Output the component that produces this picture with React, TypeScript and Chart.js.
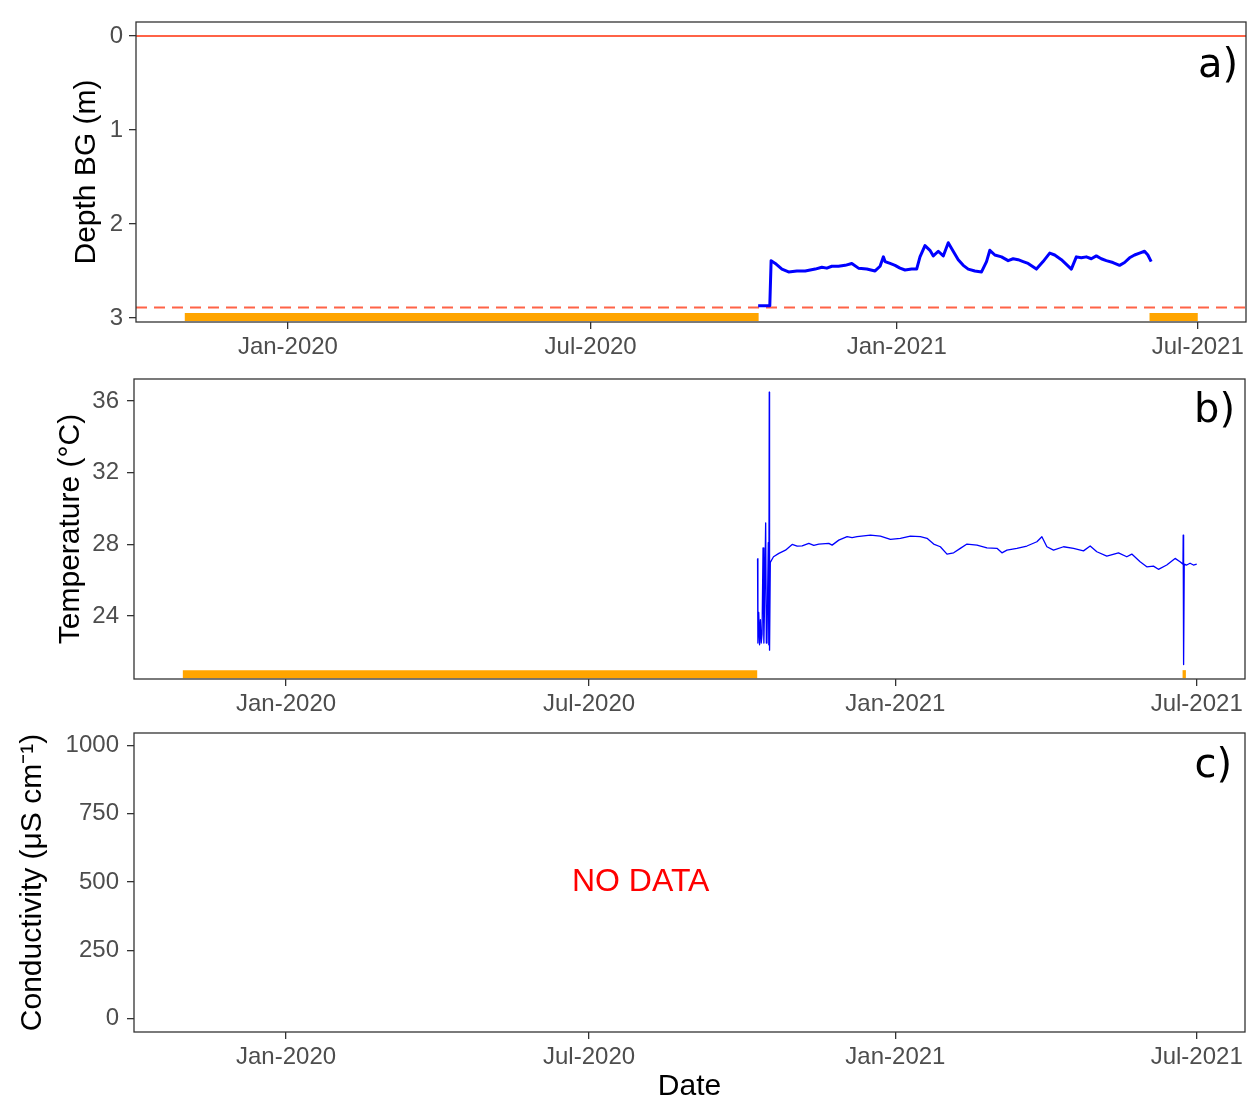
import React, { useEffect, useRef } from 'react';
import { Chart, registerables } from 'chart.js';

Chart.register(...registerables);

// ---- shared axis data ----
const X_START = '2019-10-01 16:00';
const X_END = '2021-07-30 00:00';
const TICK_DATES = ['2020-01-01', '2020-07-01', '2021-01-01', '2021-07-01'];
const TICK_LABELS = ['Jan-2020', 'Jul-2020', 'Jan-2021', 'Jul-2021'];

// ---- a) depth below ground ----
const DEPTH_TICKS = [0, 1, 2, 3];
const GROUND_LEVEL = 0;
const LOGGER_DEPTH = 2.89;
const DEPTH_GAP_LEVEL = 2.99;
const DEPTH_GAP_STARTS = ['2019-10-31', '2021-06-02'];
const DEPTH_GAP_ENDS = ['2020-10-10', '2021-07-01'];
const DEPTH_DATES = [
  '2020-10-09 17:00', '2020-10-16 17:00', '2020-10-17 12:00', '2020-10-20', '2020-10-24', '2020-10-28',
  '2020-11-02', '2020-11-07', '2020-11-10', '2020-11-13', '2020-11-17', '2020-11-20', '2020-11-23',
  '2020-11-27', '2020-12-01', '2020-12-05', '2020-12-09', '2020-12-14', '2020-12-19', '2020-12-22',
  '2020-12-24', '2020-12-25', '2020-12-28', '2020-12-31', '2021-01-03', '2021-01-06', '2021-01-10',
  '2021-01-13', '2021-01-15', '2021-01-18', '2021-01-21', '2021-01-23', '2021-01-26', '2021-01-29',
  '2021-02-01', '2021-02-03', '2021-02-07', '2021-02-10', '2021-02-13', '2021-02-17', '2021-02-21',
  '2021-02-24', '2021-02-26', '2021-03-01', '2021-03-05', '2021-03-09', '2021-03-12', '2021-03-15',
  '2021-03-18', '2021-03-21', '2021-03-26', '2021-03-30', '2021-04-03', '2021-04-06', '2021-04-10',
  '2021-04-13', '2021-04-16', '2021-04-19', '2021-04-22', '2021-04-25', '2021-04-28', '2021-05-01',
  '2021-05-04', '2021-05-07', '2021-05-11', '2021-05-15', '2021-05-18', '2021-05-21', '2021-05-24',
  '2021-05-27', '2021-05-30', '2021-06-01', '2021-06-03',
];
const DEPTH_BG = [
  2.87, 2.87, 2.39, 2.42, 2.48, 2.51,
  2.5, 2.5, 2.49, 2.48, 2.46, 2.47, 2.45,
  2.45, 2.44, 2.42, 2.47, 2.48, 2.5, 2.45,
  2.35, 2.4, 2.42, 2.44, 2.47, 2.49, 2.48,
  2.48, 2.35, 2.23, 2.28, 2.34, 2.29, 2.34,
  2.2, 2.26, 2.38, 2.44, 2.48, 2.5, 2.51,
  2.4, 2.28, 2.33, 2.35, 2.39, 2.37, 2.38,
  2.4, 2.42, 2.48, 2.4, 2.31, 2.33, 2.38,
  2.43, 2.48, 2.35, 2.36, 2.35, 2.37, 2.34,
  2.37, 2.39, 2.41, 2.44, 2.41, 2.36, 2.33,
  2.31, 2.29, 2.33, 2.4,
];

// ---- b) temperature ----
const TEMP_TICKS = [24, 28, 32, 36];
const TEMP_GAP_LEVEL = 20.76;
const TEMP_GAP_STARTS = ['2019-10-31', '2021-06-22 12:00'];
const TEMP_GAP_ENDS = ['2020-10-10', '2021-06-24 12:00'];
const TEMP_DATES = [
  '2020-10-10 05:00', '2020-10-10 10:00', '2020-10-10 22:00', '2020-10-11 10:00', '2020-10-11 22:00',
  '2020-10-12 10:00', '2020-10-12 22:00', '2020-10-13 12:00', '2020-10-14 00:00', '2020-10-14 07:00',
  '2020-10-15 02:00', '2020-10-15 12:00', '2020-10-15 21:00', '2020-10-16 16:00', '2020-10-16 23:00',
  '2020-10-17 06:00', '2020-10-17 10:00', '2020-10-17 21:00',
  '2020-10-19 19:00', '2020-10-23', '2020-10-27', '2020-10-31', '2020-11-03', '2020-11-06', '2020-11-10',
  '2020-11-13', '2020-11-16', '2020-11-22', '2020-11-24', '2020-11-28', '2020-12-03', '2020-12-06',
  '2020-12-09', '2020-12-13', '2020-12-17', '2020-12-23', '2020-12-29', '2021-01-04', '2021-01-10',
  '2021-01-16', '2021-01-20', '2021-01-24', '2021-01-28', '2021-02-01', '2021-02-05', '2021-02-09',
  '2021-02-13', '2021-02-19', '2021-02-25', '2021-03-03', '2021-03-06', '2021-03-09', '2021-03-15',
  '2021-03-21', '2021-03-27', '2021-03-30', '2021-04-02', '2021-04-06', '2021-04-12', '2021-04-18',
  '2021-04-24', '2021-04-28', '2021-05-02', '2021-05-08', '2021-05-15', '2021-05-20', '2021-05-23',
  '2021-05-28', '2021-06-01', '2021-06-05', '2021-06-08', '2021-06-13', '2021-06-18', '2021-06-21',
  '2021-06-22 18:00', '2021-06-22 21:00', '2021-06-23 00:00', '2021-06-23 06:00', '2021-06-23 12:00',
  '2021-06-25', '2021-06-27', '2021-06-29', '2021-07-01',
];
const TEMP_C = [
  27.2, 22.5, 24.2, 22.4, 23.8,
  22.5, 23.0, 27.8, 22.5, 24.0,
  29.2, 22.5, 22.6, 28.1, 22.4,
  36.5, 22.1, 27.0,
  27.31, 27.5, 27.68, 28.0, 27.9, 27.92, 28.06,
  27.95, 28.02, 28.06, 27.96, 28.24, 28.43, 28.38,
  28.43, 28.48, 28.52, 28.46, 28.28, 28.34, 28.46,
  28.43, 28.34, 28.02, 27.87, 27.46, 27.53, 27.78,
  28.02, 27.96, 27.81, 27.78, 27.53, 27.68, 27.78,
  27.91, 28.15, 28.43, 27.87, 27.68, 27.87, 27.78,
  27.64, 27.91, 27.59, 27.35, 27.53, 27.31, 27.46,
  27.03, 26.75, 26.79, 26.61, 26.85, 27.22, 27.03,
  26.9, 28.52, 21.3, 21.4, 26.9,
  26.85, 26.95, 26.85, 26.9,
];

// ---- c) conductivity ----
const COND_TICKS = [0, 250, 500, 750, 1000];
const NO_DATA_DATE = '2020-08-01';
const NO_DATA_VALUE = 500;

// ---- styling ----
const FONT = '"Liberation Sans", Arial, Helvetica, sans-serif';
const TICK_COLOR = '#4D4D4D';
const AXIS_COLOR = '#333333';
const REF_COLOR = '#FF6347';
const GAP_COLOR = '#FFA500';
const SERIES_COLOR = '#0000FF';

const ts = (s: string) => {
  const [d, hm = '00:00'] = s.split(' ');
  return Date.parse(`${d}T${hm}:00Z`);
};

const tickFont = { family: FONT, size: 24 };
const titleFont = { family: FONT, size: 30, lineHeight: 1 };

function xScale(axisHeight: number, title?: string) {
  return {
    type: 'linear',
    min: ts(X_START),
    max: ts(X_END),
    afterBuildTicks: (s: any) => {
      s.ticks = TICK_DATES.map((d) => ({ value: ts(d) }));
    },
    afterFit: (s: any) => {
      s.height = axisHeight;
      s.paddingLeft = 0;
      s.paddingRight = 0;
    },
    ticks: {
      autoSkip: false,
      maxRotation: 0,
      callback: (_v: any, i: number) => TICK_LABELS[i],
      color: TICK_COLOR,
      font: tickFont,
      padding: 4,
    },
    grid: { display: true, drawOnChartArea: false, drawTicks: true, tickLength: 7, color: AXIS_COLOR, lineWidth: 1.3 },
    border: { display: false },
    title: title
      ? { display: true, text: title, color: '#000', font: titleFont, padding: { top: 0, bottom: 0 } }
      : { display: false },
  };
}

function yScale(opts: {
  width: number;
  min: number;
  max: number;
  ticks: number[];
  title: string;
  titleOffset: number;
  labelGap: number;
  reverse?: boolean;
}) {
  return {
    type: 'linear',
    reverse: !!opts.reverse,
    min: opts.min,
    max: opts.max,
    afterBuildTicks: (s: any) => {
      s.ticks = opts.ticks.map((v) => ({ value: v }));
    },
    afterFit: (s: any) => {
      s.width = opts.width;
      s.paddingTop = 0;
      s.paddingBottom = 0;
    },
    ticks: { color: TICK_COLOR, font: tickFont, padding: opts.labelGap, callback: (v: any) => String(v) },
    grid: { display: true, drawOnChartArea: false, drawTicks: true, tickLength: 7, color: AXIS_COLOR, lineWidth: 1.3 },
    border: { display: false },
    title: {
      display: true,
      text: opts.title,
      color: '#000',
      font: titleFont,
      padding: { top: opts.titleOffset, bottom: 0 },
    },
  };
}

function series(dates: string[], values: number[], width: number) {
  return {
    data: dates.map((d, i) => ({ x: ts(d), y: values[i] })),
    borderColor: SERIES_COLOR,
    borderWidth: width,
    borderJoinStyle: 'round',
    pointRadius: 0,
    tension: 0,
  };
}

function refLine(level: number, dash: number[]) {
  return {
    data: [
      { x: ts(X_START), y: level },
      { x: ts(X_END), y: level },
    ],
    borderColor: REF_COLOR,
    borderWidth: 2,
    borderDash: dash,
    pointRadius: 0,
  };
}

function gapBars(starts: string[], ends: string[], level: number) {
  return starts.map((s, i) => ({
    data: [
      { x: ts(s), y: level },
      { x: ts(ends[i]), y: level },
    ],
    borderColor: GAP_COLOR,
    borderWidth: 8,
    borderCapStyle: 'butt',
    pointRadius: 0,
  }));
}

// panel frame plus the panel letter in the top-right corner
function framePlugin(letter: string, fromRight: number, fromTop: number) {
  return {
    id: 'panelFrame',
    afterDatasetsDraw(chart: any) {
      const { ctx, chartArea: a } = chart;
      ctx.save();
      ctx.strokeStyle = AXIS_COLOR;
      ctx.lineWidth = 1.3;
      ctx.strokeRect(a.left, a.top, a.width, a.height);
      ctx.fillStyle = '#000';
      ctx.font = '40px "DejaVu Sans", sans-serif';
      ctx.textAlign = 'right';
      ctx.textBaseline = 'alphabetic';
      ctx.fillText(letter, a.right - fromRight, a.top + fromTop);
      ctx.restore();
    },
  };
}

const noDataPlugin = {
  id: 'noData',
  afterDatasetsDraw(chart: any) {
    const { ctx, scales } = chart;
    ctx.save();
    ctx.fillStyle = '#FF0000';
    ctx.font = `32px ${FONT}`;
    ctx.textAlign = 'center';
    ctx.textBaseline = 'middle';
    ctx.fillText('NO DATA', scales.x.getPixelForValue(ts(NO_DATA_DATE)), scales.y.getPixelForValue(NO_DATA_VALUE));
    ctx.restore();
  },
};

const baseOptions = (padding: { top: number; right: number }) => ({
  responsive: false,
  animation: false,
  devicePixelRatio: 1,
  layout: { padding: { top: padding.top, right: padding.right, left: 0, bottom: 0 } },
  plugins: { legend: { display: false }, tooltip: { enabled: false } },
});

function depthConfig(): any {
  return {
    type: 'line',
    data: {
      datasets: [
        series(DEPTH_DATES, DEPTH_BG, 3),
        refLine(GROUND_LEVEL, []),
        refLine(LOGGER_DEPTH, [11, 7]),
        ...gapBars(DEPTH_GAP_STARTS, DEPTH_GAP_ENDS, DEPTH_GAP_LEVEL),
      ],
    },
    options: {
      ...baseOptions({ top: 22, right: 4 }),
      scales: {
        x: xScale(38),
        y: yScale({
          width: 136, min: -0.149, max: 3.043, ticks: DEPTH_TICKS, title: 'Depth BG (m)',
          titleOffset: 72, labelGap: 6, reverse: true,
        }),
      },
    },
    plugins: [framePlugin('a)', 8, 55)],
  };
}

function tempConfig(): any {
  return {
    type: 'line',
    data: {
      datasets: [series(TEMP_DATES, TEMP_C, 1.3), ...gapBars(TEMP_GAP_STARTS, TEMP_GAP_ENDS, TEMP_GAP_LEVEL)],
    },
    options: {
      ...baseOptions({ top: 19, right: 5 }),
      scales: {
        x: xScale(36),
        y: yScale({
          width: 134, min: 20.49, max: 37.23, ticks: TEMP_TICKS, title: 'Temperature (°C)',
          titleOffset: 56, labelGap: 8,
        }),
      },
    },
    plugins: [framePlugin('b)', 10, 43)],
  };
}

function condConfig(): any {
  return {
    type: 'line',
    data: { datasets: [] },
    options: {
      ...baseOptions({ top: 18, right: 5 }),
      scales: {
        x: xScale(70, 'Date'),
        y: yScale({
          width: 134, min: -48, max: 1045, ticks: COND_TICKS, title: 'Conductivity (μS cm⁻¹)',
          titleOffset: 18, labelGap: 8,
        }),
      },
    },
    plugins: [framePlugin('c)', 13, 44), noDataPlugin],
  };
}

function Panel({ top, height, build }: { top: number; height: number; build: () => any }) {
  const ref = useRef<HTMLCanvasElement>(null);
  useEffect(() => {
    const chart = new Chart(ref.current as HTMLCanvasElement, build());
    return () => chart.destroy();
  }, [build]);
  return (
    <canvas
      ref={ref}
      width={1250}
      height={height}
      style={{ position: 'absolute', left: 0, top, width: 1250, height, display: 'block' }}
    />
  );
}

export default function App() {
  return (
    <div style={{ position: 'absolute', left: 0, top: 0, width: 1250, height: 1102, background: '#fff' }}>
      <Panel top={0} height={360} build={depthConfig} />
      <Panel top={360} height={355} build={tempConfig} />
      <Panel top={715} height={387} build={condConfig} />
    </div>
  );
}
